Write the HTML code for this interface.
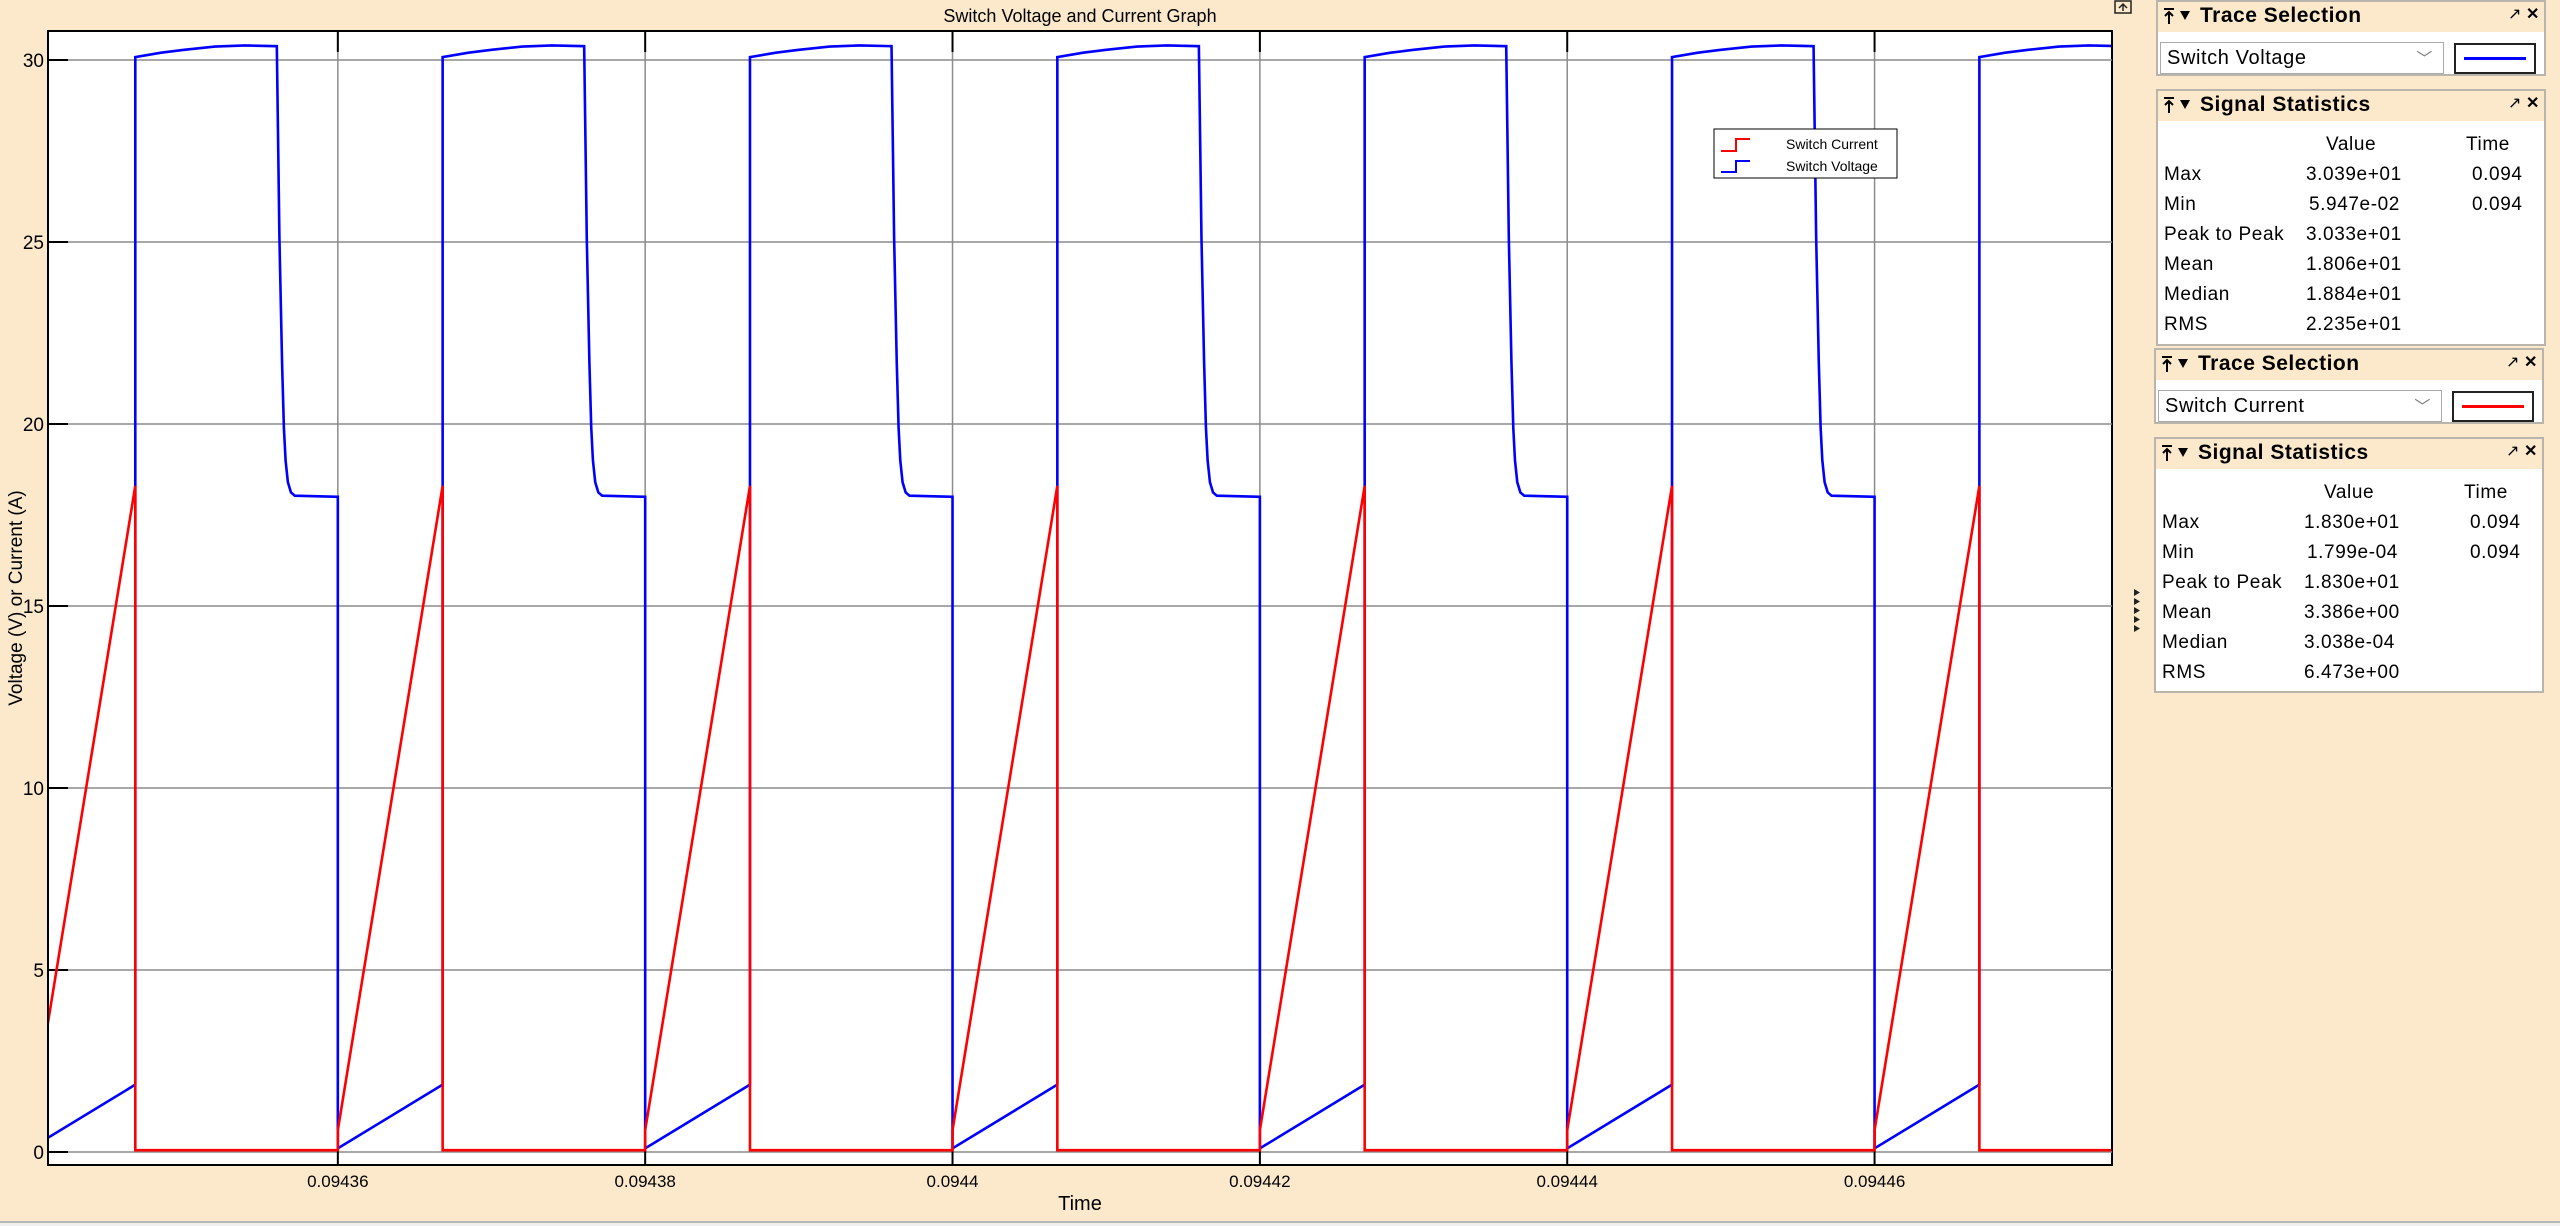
<!DOCTYPE html>
<html><head><meta charset="utf-8"><style>
html,body{margin:0;padding:0;}
body{width:2560px;height:1226px;background:#fce9cb;position:relative;overflow:hidden;font-family:"Liberation Sans",sans-serif;}
.panel{position:absolute;border:2px solid #b9b4ac;background:#fff;box-sizing:border-box;}
.hdr{position:absolute;left:0;right:0;top:0;height:30px;background:#fce9cb;}
.hdr .t{position:absolute;left:42px;top:2px;font-weight:bold;font-size:21px;letter-spacing:0.5px;}
.hdr svg{position:absolute;left:0;top:0;}
.hdr .ic{position:absolute;top:2px;font-size:16px;}
.row{position:absolute;font-size:19px;letter-spacing:0.6px;}
.dd{position:absolute;border:1px solid #aaa;background:#fff;font-size:20px;letter-spacing:0.6px;box-sizing:border-box;}
.sw{position:absolute;border:2px solid #222;background:#fff;box-sizing:border-box;}
</style></head><body>
<svg id="chart" width="2560" height="1226" style="position:absolute;left:0;top:0">
<text x="1080" y="22" font-size="18" text-anchor="middle" font-family="Liberation Sans">Switch Voltage and Current Graph</text>
<rect x="48" y="31" width="2064" height="1134" fill="#fff" stroke="#000" stroke-width="2"/>
<g id="grid"></g>
<g id="series" clip-path="url(#clip)"></g>
<defs><clipPath id="clip"><rect x="49" y="32" width="2062" height="1132"/></clipPath></defs>
<text x="1080" y="1210" font-size="20" text-anchor="middle" font-family="Liberation Sans">Time</text>
<text transform="translate(22,598) rotate(-90)" font-size="19" text-anchor="middle" font-family="Liberation Sans">Voltage (V) or Current (A)</text>
<g>
<rect x="1714" y="129" width="183" height="49" fill="#fff" stroke="#000" stroke-width="1"/>
<path d="M1721,151 H1736 V139 H1750" fill="none" stroke="#f00" stroke-width="2"/>
<path d="M1721,172 H1736 V161 H1750" fill="none" stroke="#00f" stroke-width="2"/>
<text x="1786" y="149" font-size="14" font-family="Liberation Sans">Switch Current</text>
<text x="1786" y="171" font-size="14" font-family="Liberation Sans">Switch Voltage</text>
</g>
<rect x="2115" y="1" width="16" height="12" fill="none" stroke="#222" stroke-width="1.5"/>
<path d="M2123,11 V4 M2119,8 L2123,4 L2127,8" stroke="#222" stroke-width="1.5" fill="none"/>
<g fill="#222">
<path d="M2134,589 v7 l6,-3.5z M2134,598 v7 l6,-3.5z M2134,607 v7 l6,-3.5z M2134,616 v7 l6,-3.5z M2134,625 v7 l6,-3.5z"/>
</g>
<line x1="0" y1="1222" x2="2560" y2="1222" stroke="#b8b8b8" stroke-width="2"/>
<rect x="0" y="1223" width="2560" height="3" fill="#f0f0f0"/>
</svg>

<div class="panel" style="left:2156px;top:0;width:390px;height:76px">
 <div class="hdr"><svg width="40" height="30"><path d="M6,7 h10 M11,10 v12 M7,14 l4,-4 4,4" stroke="#000" stroke-width="2" fill="none"/><path d="M22,9 h10 l-5,9z" fill="#000"/></svg><span class="t">Trace Selection</span><span class="ic" style="left:350px">↗</span><span class="ic" style="left:368px;font-weight:bold">✕</span></div>
 <div class="dd" style="left:2px;top:40px;width:284px;height:32px;padding:4px 6px">Switch Voltage<span style="position:absolute;right:10px;top:2px;color:#777;font-size:16px">﹀</span></div>
 <div class="sw" style="left:296px;top:41px;width:82px;height:31px"><div style="position:absolute;left:8px;right:8px;top:12px;height:3px;background:#00f"></div></div>
</div>
<div class="panel" style="left:2156px;top:89px;width:390px;height:257px">
 <div class="hdr"><svg width="40" height="30"><path d="M6,7 h10 M11,10 v12 M7,14 l4,-4 4,4" stroke="#000" stroke-width="2" fill="none"/><path d="M22,9 h10 l-5,9z" fill="#000"/></svg><span class="t">Signal Statistics</span><span class="ic" style="left:350px">↗</span><span class="ic" style="left:368px;font-weight:bold">✕</span></div>
 <div class="row" style="left:168px;top:43px">Value</div><div class="row" style="left:308px;top:43px">Time</div>
 <div class="row" style="left:6px;top:73px">Max</div><div class="row" style="left:148px;top:73px">3.039e+01</div><div class="row" style="left:314px;top:73px">0.094</div>
 <div class="row" style="left:6px;top:103px">Min</div><div class="row" style="left:151px;top:103px">5.947e-02</div><div class="row" style="left:314px;top:103px">0.094</div>
 <div class="row" style="left:6px;top:133px">Peak to Peak</div><div class="row" style="left:148px;top:133px">3.033e+01</div>
 <div class="row" style="left:6px;top:163px">Mean</div><div class="row" style="left:148px;top:163px">1.806e+01</div>
 <div class="row" style="left:6px;top:193px">Median</div><div class="row" style="left:148px;top:193px">1.884e+01</div>
 <div class="row" style="left:6px;top:223px">RMS</div><div class="row" style="left:148px;top:223px">2.235e+01</div>
</div>
<div class="panel" style="left:2154px;top:348px;width:390px;height:76px">
 <div class="hdr"><svg width="40" height="30"><path d="M6,7 h10 M11,10 v12 M7,14 l4,-4 4,4" stroke="#000" stroke-width="2" fill="none"/><path d="M22,9 h10 l-5,9z" fill="#000"/></svg><span class="t">Trace Selection</span><span class="ic" style="left:350px">↗</span><span class="ic" style="left:368px;font-weight:bold">✕</span></div>
 <div class="dd" style="left:2px;top:40px;width:284px;height:32px;padding:4px 6px">Switch Current<span style="position:absolute;right:10px;top:2px;color:#777;font-size:16px">﹀</span></div>
 <div class="sw" style="left:296px;top:41px;width:82px;height:31px"><div style="position:absolute;left:8px;right:8px;top:12px;height:3px;background:#f00"></div></div>
</div>
<div class="panel" style="left:2154px;top:437px;width:390px;height:256px">
 <div class="hdr"><svg width="40" height="30"><path d="M6,7 h10 M11,10 v12 M7,14 l4,-4 4,4" stroke="#000" stroke-width="2" fill="none"/><path d="M22,9 h10 l-5,9z" fill="#000"/></svg><span class="t">Signal Statistics</span><span class="ic" style="left:350px">↗</span><span class="ic" style="left:368px;font-weight:bold">✕</span></div>
 <div class="row" style="left:168px;top:43px">Value</div><div class="row" style="left:308px;top:43px">Time</div>
 <div class="row" style="left:6px;top:73px">Max</div><div class="row" style="left:148px;top:73px">1.830e+01</div><div class="row" style="left:314px;top:73px">0.094</div>
 <div class="row" style="left:6px;top:103px">Min</div><div class="row" style="left:151px;top:103px">1.799e-04</div><div class="row" style="left:314px;top:103px">0.094</div>
 <div class="row" style="left:6px;top:133px">Peak to Peak</div><div class="row" style="left:148px;top:133px">1.830e+01</div>
 <div class="row" style="left:6px;top:163px">Mean</div><div class="row" style="left:148px;top:163px">3.386e+00</div>
 <div class="row" style="left:6px;top:193px">Median</div><div class="row" style="left:148px;top:193px">3.038e-04</div>
 <div class="row" style="left:6px;top:223px">RMS</div><div class="row" style="left:148px;top:223px">6.473e+00</div>
</div>

<script>
// time in microseconds after 0.0943 s
const xTicks = [60, 80, 100, 120, 140, 160];
const xTickLabels = ["0.09436", "0.09438", "0.0944", "0.09442", "0.09444", "0.09446"];
const yTicks = [0, 5, 10, 15, 20, 25, 30];
const periodStarts = [40, 60, 80, 100, 120, 140, 160, 180];
const voltageOffsets = [0, 6.82, 6.82, 8.5, 10, 12, 13.95, 16.03, 16.2, 16.37, 16.49, 16.6, 16.75, 16.95, 17.2, 20];
const voltageShape = [0.1, 1.85, 30.08, 30.2, 30.28, 30.37, 30.4, 30.38, 25.1, 21.7, 19.9, 19.0, 18.4, 18.12, 18.03, 18.0];
const currentOffsets = [0, 6.82, 6.82, 20];
const currentShape = [0.6, 18.3, 0.05, 0.05];

const X0 = 48, X1 = 2112, T0 = 41.14, T1 = 175.45;
const Y0px = 1152, YperUnit = 36.4;
const xs = t => X0 + (t - T0) / (T1 - T0) * (X1 - X0);
const ys = v => Y0px - v * YperUnit;
const NS = "http://www.w3.org/2000/svg";
const grid = document.getElementById('grid');
const series = document.getElementById('series');
const svg = document.getElementById('chart');

yTicks.forEach(v => {
  const l = document.createElementNS(NS, 'line');
  
  
  l.setAttribute('x1', X0); l.setAttribute('x2', X1);
  l.setAttribute('y1', ys(v)); l.setAttribute('y2', ys(v));
  l.setAttribute('stroke', '#8c8c8c'); l.setAttribute('stroke-width', '1.5');
  grid.appendChild(l);
  const tk = document.createElementNS(NS, 'line');
  
  
  tk.setAttribute('x1', X0); tk.setAttribute('x2', X0 + 20);
  tk.setAttribute('y1', ys(v)); tk.setAttribute('y2', ys(v));
  tk.setAttribute('stroke', '#000'); tk.setAttribute('stroke-width', '2');
  grid.appendChild(tk);
  const tx = document.createElementNS(NS, 'text');
  
  
  tx.setAttribute('x', X0 - 4); tx.setAttribute('y', ys(v) + 7);
  tx.setAttribute('text-anchor', 'end'); tx.setAttribute('font-size', '19');
  tx.setAttribute('font-family', 'Liberation Sans');
  tx.textContent = v;
  svg.appendChild(tx);
});
xTicks.forEach((t, i) => {
  const x = xs(t);
  const l = document.createElementNS(NS, 'line');
  
  
  l.setAttribute('x1', x); l.setAttribute('x2', x);
  l.setAttribute('y1', 31); l.setAttribute('y2', 1165);
  l.setAttribute('stroke', '#8c8c8c'); l.setAttribute('stroke-width', '1.5');
  grid.appendChild(l);
  [[31, 52], [1145, 1165]].forEach(([a, b]) => {
    const tk = document.createElementNS(NS, 'line');
    
    
    tk.setAttribute('x1', x); tk.setAttribute('x2', x);
    tk.setAttribute('y1', a); tk.setAttribute('y2', b);
    tk.setAttribute('stroke', '#000'); tk.setAttribute('stroke-width', '2');
    grid.appendChild(tk);
  });
  const tx = document.createElementNS(NS, 'text');
  
  
  tx.setAttribute('x', x); tx.setAttribute('y', 1187);
  tx.setAttribute('text-anchor', 'middle'); tx.setAttribute('font-size', '17');
  tx.setAttribute('font-family', 'Liberation Sans');
  tx.textContent = xTickLabels[i];
  svg.appendChild(tx);
});

function buildPath(offsets, shape) {
  const pts = [];
  periodStarts.forEach(p => {
    offsets.forEach((o, i) => pts.push(xs(p + o).toFixed(2) + ',' + ys(shape[i]).toFixed(2)));
  });
  return 'M' + pts.join(' L');
}
const vp = document.createElementNS(NS, 'path');


vp.setAttribute('d', buildPath(voltageOffsets, voltageShape));
vp.setAttribute('fill', 'none'); vp.setAttribute('stroke', '#0000ff'); vp.setAttribute('stroke-width', '2.6');
series.appendChild(vp);
const cp = document.createElementNS(NS, 'path');


cp.setAttribute('d', buildPath(currentOffsets, currentShape));
cp.setAttribute('fill', 'none'); cp.setAttribute('stroke', '#ff0000'); cp.setAttribute('stroke-width', '2.6');
series.appendChild(cp);
</script>
</body></html>
